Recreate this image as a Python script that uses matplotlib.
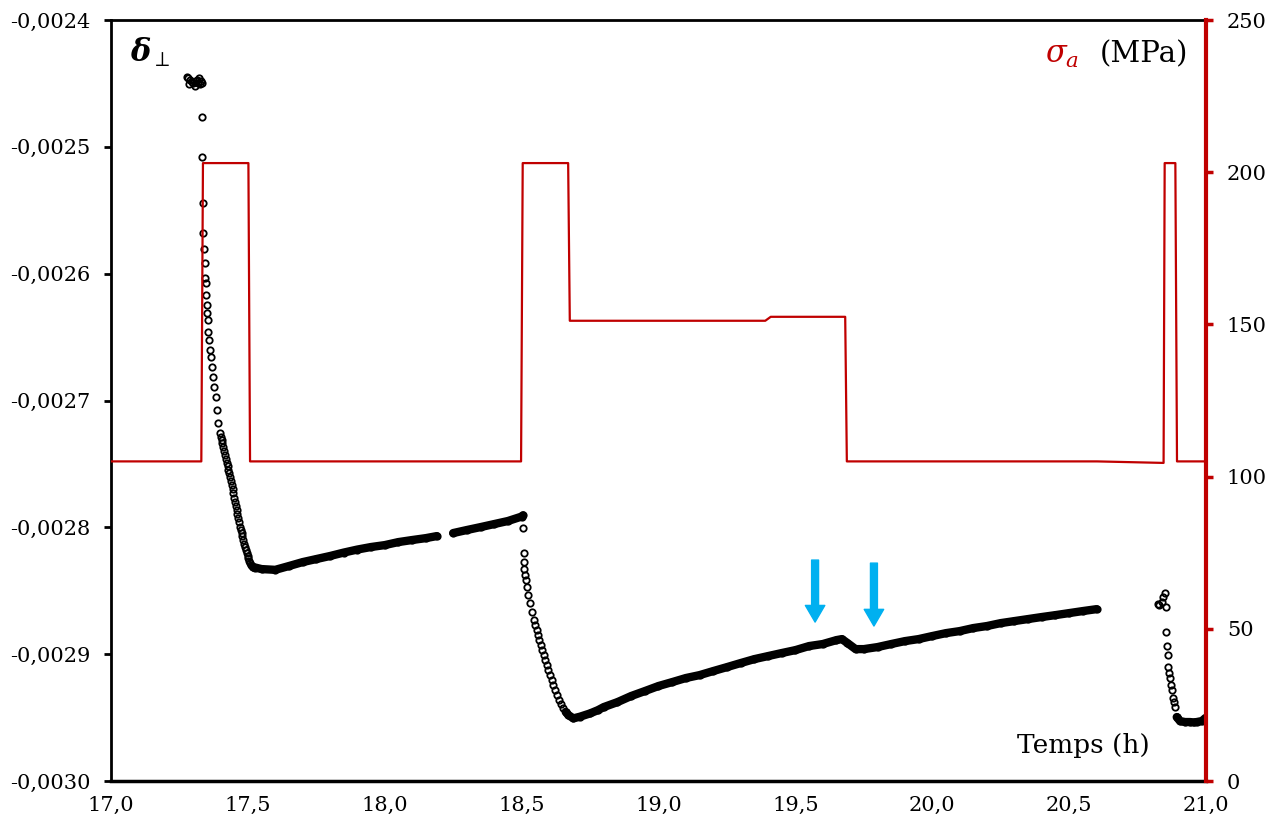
"""
Déformation perpendiculaire et contrainte appliquée en fonction du temps.
"""
import matplotlib
matplotlib.use("Agg")
import matplotlib.pyplot as plt
from matplotlib.ticker import FuncFormatter, MultipleLocator

plt.rcParams["font.family"] = ["DejaVu Serif"]
plt.rcParams["mathtext.fontset"] = "dejavuserif"

RED = "#C00000"
BLUE = "#00B0F0"

# --- delta_perp : points isolés (montées / descentes) ---
pts_t = [17.277, 17.280, 17.285, 17.290, 17.296, 17.300, 17.307, 17.310,
         17.314, 17.318, 17.322, 17.325, 17.328, 17.332, 17.331, 17.333,
         17.335, 17.337, 17.340, 17.342, 17.344, 17.346, 17.347, 17.350,
         17.352, 17.353, 17.355, 17.358, 17.362, 17.365, 17.368, 17.374,
         17.377, 17.382, 17.386, 17.392, 17.398, 17.401, 17.404, 17.407,
         17.410, 17.413, 17.416, 17.419, 17.423, 17.426, 17.428, 17.431,
         17.435, 17.438, 17.441, 17.444, 17.447, 17.450, 17.453, 17.456,
         17.459, 17.462, 17.465, 17.468, 17.471, 17.474, 17.477, 17.480,
         17.483, 17.486, 17.489, 17.492, 17.496, 17.499, 17.502, 17.505,
         17.508, 17.511, 17.515, 17.520, 17.526]
pts_v = [-0.0024447, -0.0024460, -0.0024505, -0.0024470, -0.0024489,
         -0.0024500, -0.0024520, -0.0024480, -0.0024473, -0.0024495,
         -0.0024460, -0.0024505, -0.0024480, -0.0024497, -0.0024762,
         -0.0025083, -0.0025441, -0.0025677, -0.0025803, -0.0025914,
         -0.0026034, -0.0026071, -0.0026168, -0.0026247, -0.0026310,
         -0.0026365, -0.0026458, -0.0026523, -0.0026602, -0.0026655,
         -0.0026734, -0.0026813, -0.0026891, -0.0026970, -0.0027075,
         -0.0027178, -0.0027256, -0.0027285, -0.0027312, -0.0027338,
         -0.0027364, -0.0027397, -0.0027430, -0.0027462, -0.0027493,
         -0.0027520, -0.0027548, -0.0027575, -0.0027601, -0.0027634,
         -0.0027667, -0.0027698, -0.0027730, -0.0027765, -0.0027800,
         -0.0027832, -0.0027864, -0.0027895, -0.0027927, -0.0027961,
         -0.0027995, -0.0028020, -0.0028045, -0.0028072, -0.0028100,
         -0.0028128, -0.0028155, -0.0028180, -0.0028203, -0.0028222,
         -0.0028242, -0.0028262, -0.0028282, -0.0028295, -0.0028305,
         -0.0028315, -0.0028321]

desc2_t = [18.506, 18.509, 18.509, 18.510, 18.512, 18.516, 18.518, 18.524,
           18.531, 18.537, 18.545, 18.550, 18.555, 18.560, 18.565, 18.570,
           18.576, 18.580, 18.585, 18.591, 18.597, 18.603, 18.610, 18.616,
           18.622, 18.630, 18.638, 18.645, 18.652, 18.661]
desc2_v = [-0.0028008, -0.0028200, -0.0028271, -0.0028331, -0.0028376,
           -0.0028416, -0.0028468, -0.0028534, -0.0028599, -0.0028666,
           -0.0028731, -0.0028770, -0.0028810, -0.0028850, -0.0028889,
           -0.0028930, -0.0028968, -0.0029005, -0.0029046, -0.0029085,
           -0.0029125, -0.0029165, -0.0029204, -0.0029243, -0.0029283,
           -0.0029322, -0.0029362, -0.0029395, -0.0029427, -0.0029455]

desc3_t = [20.825, 20.830, 20.838, 20.843, 20.850, 20.854, 20.854, 20.856,
           20.860, 20.862, 20.865, 20.868, 20.871, 20.875, 20.879, 20.883,
           20.887, 20.893]
desc3_v = [-0.0028605, -0.0028615, -0.0028587, -0.0028550, -0.0028518,
           -0.0028629, -0.0028826, -0.0028936, -0.0029007, -0.0029101,
           -0.0029150, -0.0029188, -0.0029240, -0.0029283, -0.0029346,
           -0.0029380, -0.0029417, -0.0029496]

# --- delta_perp : zones denses (bandes) ---
band1_t = [17.52, 17.55, 17.60, 17.65, 17.70, 17.75, 17.80, 17.85, 17.90,
           17.95, 18.00, 18.05, 18.10, 18.15, 18.19]
band1_v = [-0.0028313, -0.0028329, -0.0028335, -0.0028305, -0.0028274,
           -0.0028250, -0.0028226, -0.0028199, -0.0028175, -0.0028155,
           -0.0028140, -0.0028116, -0.0028100, -0.0028085, -0.0028069]

band2_t = [18.25, 18.30, 18.35, 18.40, 18.45, 18.50, 18.505]
band2_v = [-0.0028045, -0.0028021, -0.0027998, -0.0027974, -0.0027950,
           -0.0027915, -0.0027905]

band3_t = [18.661, 18.671, 18.689, 18.713, 18.750, 18.779, 18.80, 18.85,
           18.90, 18.95, 19.00, 19.05, 19.10, 19.15, 19.20, 19.25, 19.30,
           19.35, 19.40, 19.45, 19.50, 19.55, 19.60, 19.65, 19.67, 19.69,
           19.72, 19.75, 19.80, 19.85, 19.90, 19.95, 20.00, 20.05, 20.10,
           20.15, 20.20, 20.25, 20.30, 20.35, 20.40, 20.45, 20.50, 20.55,
           20.60]
band3_v = [-0.0029455, -0.0029480, -0.0029506, -0.0029493, -0.0029467,
           -0.0029441, -0.0029417, -0.0029378, -0.0029330, -0.0029291,
           -0.0029251, -0.0029220, -0.0029188, -0.0029165, -0.0029133,
           -0.0029102, -0.0029070, -0.0029039, -0.0029015, -0.0028991,
           -0.0028968, -0.0028936, -0.0028920, -0.0028889, -0.0028881,
           -0.0028912, -0.0028960, -0.0028960, -0.0028944, -0.0028920,
           -0.0028897, -0.0028881, -0.0028857, -0.0028834, -0.0028818,
           -0.0028794, -0.0028778, -0.0028755, -0.0028739, -0.0028723,
           -0.0028707, -0.0028692, -0.0028676, -0.0028660, -0.0028645]

band4_t = [20.893, 20.905, 20.923, 20.941, 20.955, 20.966, 20.985, 20.998]
band4_v = [-0.0029496, -0.0029527, -0.0029535, -0.0029535, -0.0029538,
           -0.0029535, -0.0029527, -0.0029503]

# --- sigma_a (MPa) ---
sig_t = [17.00, 17.330, 17.336, 17.502, 17.508, 18.184, 18.257, 18.498,
         18.504, 18.670, 18.676, 19.39, 19.41, 19.682, 19.688, 20.602,
         20.845, 20.849, 20.888, 20.894, 21.00]
sig_v = [105.0, 105.0, 203.0, 203.0, 105.0, 105.0, 105.0, 105.0,
         203.0, 203.0, 151.2, 151.2, 152.5, 152.5, 105.0, 105.0,
         104.5, 203.0, 203.0, 105.0, 105.0]

# flèches (temps, haut, pointe)
arrow_t = [19.572, 19.787]
arrow_top = [-0.0028258, -0.0028282]
arrow_tip = [-0.0028747, -0.0028778]


fig = plt.figure(figsize=(12.8, 8.27), dpi=100)
ax = fig.add_axes([0.0867, 0.0556, 0.8555, 0.9202])
ax2 = ax.twinx()

mk = dict(marker="o", markersize=4.6, markerfacecolor="none",
          markeredgecolor="black", markeredgewidth=1.3, linestyle="none")

for bt, bv in [(band1_t, band1_v), (band2_t, band2_v),
               (band3_t, band3_v), (band4_t, band4_v)]:
    ax.plot(bt, bv, color="black", linewidth=6.0, solid_capstyle="round",
            zorder=2)
    ax.plot(bt, bv, zorder=3, **mk)

for pt, pv in [(pts_t, pts_v), (desc2_t, desc2_v), (desc3_t, desc3_v)]:
    ax.plot(pt, pv, zorder=3, **mk)

for t, y0, y1 in zip(arrow_t, arrow_top, arrow_tip):
    ax.annotate("", xy=(t, y1), xytext=(t, y0),
                arrowprops=dict(width=5, headwidth=14, headlength=12,
                                color=BLUE, shrink=0))

ax2.plot(sig_t, sig_v, color=RED, linewidth=1.6)

# axes
ax.set_xlim(17.0, 21.0)
ax.set_ylim(-0.0030, -0.0024)
ax2.set_ylim(0, 250)
ax.xaxis.set_major_locator(MultipleLocator(0.5))
ax.yaxis.set_major_locator(MultipleLocator(0.0001))
ax2.yaxis.set_major_locator(MultipleLocator(50))
ax.xaxis.set_major_formatter(FuncFormatter(lambda v, p: f"{v:.1f}".replace(".", ",")))
ax.yaxis.set_major_formatter(FuncFormatter(lambda v, p: f"{v:.4f}".replace(".", ",")))
ax2.yaxis.set_major_formatter(FuncFormatter(lambda v, p: f"{v:.0f}"))

ax.tick_params(axis="x", length=0, pad=11, labelsize=15)
ax.tick_params(axis="y", length=5, width=2, pad=10, labelsize=15)
ax2.tick_params(axis="y", length=5, width=2.5, color=RED, pad=10,
                labelsize=15, labelcolor="black")

for s in ["left", "top"]:
    ax.spines[s].set_linewidth(2)
ax.spines["bottom"].set_linewidth(2.5)
ax2.spines["right"].set_color(RED)
ax2.spines["right"].set_linewidth(3)
for s in ["left", "top", "bottom"]:
    ax2.spines[s].set_visible(False)

# textes
ax.text(0.017, 0.958, r"$\boldsymbol{\delta}_{\perp}$", transform=ax.transAxes,
        fontsize=22, ha="left", va="center")
ax.text(0.884, 0.955, r"$\sigma_a$", transform=ax.transAxes, color=RED,
        fontsize=22, ha="right", va="center")
ax.text(0.984, 0.955, "(MPa)", transform=ax.transAxes, fontsize=21,
        ha="right", va="center")
ax.text(0.949, 0.047, "Temps (h)", transform=ax.transAxes, fontsize=19,
        ha="right", va="center")

fig.savefig("out.png", dpi=100)
